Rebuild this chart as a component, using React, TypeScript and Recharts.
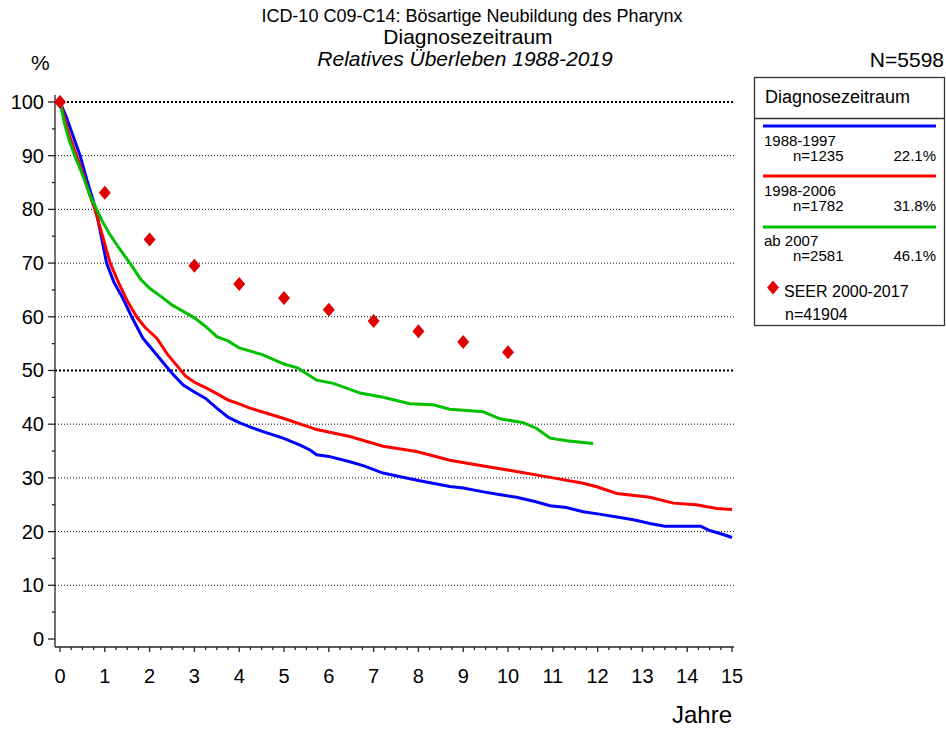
import React from "react";
import {
  ComposedChart,
  Line,
  Scatter,
  XAxis,
  YAxis,
  ReferenceLine,
} from "recharts";

const FONT = "'Liberation Sans', Arial, Helvetica, sans-serif";

// 1988-1997
const blueT = [0, 0.15, 0.3, 0.45, 0.6, 0.8, 0.92, 1.04, 1.2, 1.4, 1.6, 1.85, 2.0, 2.25, 2.5, 2.75, 3.0, 3.25, 3.5, 3.75, 4.0, 4.24, 4.5, 4.98, 5.36, 5.58, 5.73, 6.0, 6.47, 6.8, 7.21, 7.6, 8.0, 8.7, 9.0, 9.45, 9.8, 10.19, 10.6, 10.94, 11.3, 11.68, 12.0, 12.43, 12.8, 13.17, 13.5, 14.06, 14.3, 14.5, 14.75, 15.0];
const blueV = [100, 97, 93.5, 90, 85.5, 80, 75, 70, 66.5, 63.5, 60, 56, 54.5, 52, 49.5, 47.3, 46, 44.8, 43, 41.3, 40.3, 39.5, 38.7, 37.4, 36.1, 35.2, 34.3, 34, 33, 32.2, 30.9, 30.2, 29.5, 28.4, 28.1, 27.4, 26.9, 26.4, 25.6, 24.8, 24.5, 23.7, 23.3, 22.7, 22.2, 21.5, 21.0, 21.0, 21.0, 20.2, 19.6, 18.9];

// 1998-2006
const redT = [0, 0.1, 0.2, 0.37, 0.5, 0.65, 0.78, 0.95, 1.12, 1.3, 1.5, 1.71, 1.9, 2.16, 2.4, 2.6, 2.8, 3.0, 3.25, 3.5, 3.75, 4.0, 4.24, 4.98, 5.73, 6.47, 7.21, 7.96, 8.7, 9.45, 10.19, 10.94, 11.68, 12.0, 12.43, 13.17, 13.69, 14.2, 14.66, 15.0];
const redV = [100, 97, 94, 90, 87, 83, 80, 75, 70, 66.5, 63, 60, 58, 56, 53, 51, 49, 47.8, 46.8, 45.7, 44.5, 43.8, 43.0, 41.1, 39.0, 37.7, 35.9, 34.9, 33.3, 32.2, 31.2, 30.1, 29.0, 28.3, 27.1, 26.4, 25.3, 25.0, 24.3, 24.1];

// ab 2007
const greenT = [0, 0.1, 0.2, 0.33, 0.5, 0.7, 0.82, 0.93, 1.1, 1.3, 1.56, 1.8, 2.0, 2.25, 2.5, 2.75, 3.0, 3.25, 3.5, 3.75, 4.0, 4.5, 5.0, 5.3, 5.73, 6.1, 6.7, 7.21, 7.81, 8.33, 8.7, 9.45, 9.82, 10.34, 10.64, 10.94, 11.31, 11.9];
const greenV = [100, 96, 93, 90, 86.5, 82, 80, 78, 75.5, 73, 70, 67, 65.3, 63.8, 62.2, 61, 59.8, 58.2, 56.3, 55.5, 54.2, 53, 51.2, 50.5, 48.2, 47.6, 45.8, 45.0, 43.8, 43.6, 42.8, 42.3, 41.0, 40.3, 39.2, 37.4, 36.9, 36.4];

// SEER 2000-2017
const seerT = [0, 1, 2, 3, 4, 5, 6, 7, 8, 9, 10];
const seerV = [100, 83.1, 74.4, 69.5, 66.1, 63.5, 61.3, 59.2, 57.3, 55.3, 53.4];

const yMajor = [0, 10, 20, 30, 40, 50, 60, 70, 80, 90, 100];
const yMinor = [5, 15, 25, 35, 45, 55, 65, 75, 85, 95];
const xMajor = [0, 1, 2, 3, 4, 5, 6, 7, 8, 9, 10, 11, 12, 13, 14, 15];
const xMinor = xMajor.slice(0, 15).flatMap((v) => [v + 0.25, v + 0.5, v + 0.75]);
const gridLines = [10, 20, 30, 40, 60, 70, 80, 90];
const boldGridLines = [50, 100];

const toRows = (t: number[], v: number[]) => t.map((x, i) => ({ t: x, v: v[i] }));

const blueData = toRows(blueT, blueV);
const redData = toRows(redT, redV);
const greenData = toRows(greenT, greenV);
const seerData = toRows(seerT, seerV);

const XTick = (props: any) => {
  const { x, y, payload } = props;
  const major = Number.isInteger(payload.value);
  return (
    <g>
      <line x1={x} x2={x} y1={y} y2={y + (major ? 5 : 3)} stroke="#222" strokeWidth={1.3} />
      {major && (
        <text x={x} y={y + 36} textAnchor="middle" fontSize={20} fontFamily={FONT} fill="#000">
          {payload.value}
        </text>
      )}
    </g>
  );
};

const YTick = (props: any) => {
  const { x, y, payload } = props;
  const major = payload.value % 10 === 0;
  return (
    <g>
      <line x1={x - (major ? 7 : 3)} x2={x} y1={y} y2={y} stroke="#222" strokeWidth={1.3} />
      {major && (
        <text x={x - 11} y={y + 7} textAnchor="end" fontSize={20} fontFamily={FONT} fill="#000">
          {payload.value}
        </text>
      )}
    </g>
  );
};

const Diamond = (props: any) => {
  const { cx, cy } = props;
  return (
    <polygon
      points={`${cx},${cy - 7} ${cx + 6},${cy} ${cx},${cy + 7} ${cx - 6},${cy}`}
      fill="#E00000"
    />
  );
};

export default function App() {
  return (
    <div style={{ position: "absolute", left: 0, top: 0, width: 946, height: 729, background: "#fff" }}>
      <ComposedChart
        width={946}
        height={729}
        margin={{ top: 95, right: 212, bottom: 72, left: 45 }}
      >
        <XAxis
          type="number"
          dataKey="t"
          domain={[-0.1116, 15.044]}
          allowDataOverflow
          ticks={[...xMajor, ...xMinor]}
          tick={<XTick />}
          tickLine={false}
          tickSize={0}
          tickMargin={0}
          height={10}
          interval={0}
          axisLine={{ stroke: "#222", strokeWidth: 1.3 }}
        />
        <YAxis
          type="number"
          dataKey="v"
          domain={[-1.49, 101.3]}
          allowDataOverflow
          ticks={[...yMajor, ...yMinor]}
          tick={<YTick />}
          tickLine={false}
          tickSize={0}
          tickMargin={0}
          width={10}
          interval={0}
          axisLine={{ stroke: "#222", strokeWidth: 1.3 }}
        />
        {gridLines.map((g) => (
          <ReferenceLine key={g} y={g} stroke="#000" strokeWidth={1} strokeDasharray="1 2" />
        ))}
        {boldGridLines.map((g) => (
          <ReferenceLine key={g} y={g} stroke="#000" strokeWidth={2} strokeDasharray="2 2" />
        ))}
        <Line data={blueData} dataKey="v" stroke="#0000FF" strokeWidth={3} dot={false} isAnimationActive={false} />
        <Line data={redData} dataKey="v" stroke="#FF0000" strokeWidth={3} dot={false} isAnimationActive={false} />
        <Line data={greenData} dataKey="v" stroke="#00C000" strokeWidth={3} dot={false} isAnimationActive={false} />
        <Scatter data={seerData} dataKey="v" shape={<Diamond />} isAnimationActive={false} />
      </ComposedChart>

      <svg
        width={946}
        height={729}
        style={{ position: "absolute", left: 0, top: 0, pointerEvents: "none" }}
        fontFamily={FONT}
      >
        <text x={472} y={22} textAnchor="middle" fontSize={18}>ICD-10 C09-C14: Bösartige Neubildung des Pharynx</text>
        <text x={468} y={44} textAnchor="middle" fontSize={21}>Diagnosezeitraum</text>
        <text x={465} y={66} textAnchor="middle" fontSize={21} fontStyle="italic">Relatives Überleben 1988-2019</text>
        <text x={31} y={70} fontSize={21}>%</text>
        <text x={944} y={67} textAnchor="end" fontSize={21}>N=5598</text>
        <text x={732} y={723} textAnchor="end" fontSize={24}>Jahre</text>

        <rect x={754.5} y={77.5} width={190} height={248} fill="#fff" stroke="#333" strokeWidth={1.3} />
        <line x1={754.5} x2={944.5} y1={118.5} y2={118.5} stroke="#333" strokeWidth={1.3} />
        <text x={765} y={103} fontSize={18}>Diagnosezeitraum</text>

        <line x1={763} x2={936} y1={126} y2={126} stroke="#0000FF" strokeWidth={3} />
        <text x={764} y={146} fontSize={15}>1988-1997</text>
        <text x={793} y={161} fontSize={15}>n=1235</text>
        <text x={936} y={161} textAnchor="end" fontSize={15}>22.1%</text>

        <line x1={763} x2={936} y1={176} y2={176} stroke="#FF0000" strokeWidth={3} />
        <text x={764} y={196} fontSize={15}>1998-2006</text>
        <text x={793} y={211} fontSize={15}>n=1782</text>
        <text x={936} y={211} textAnchor="end" fontSize={15}>31.8%</text>

        <line x1={763} x2={936} y1={227} y2={227} stroke="#00C000" strokeWidth={3} />
        <text x={764} y={246} fontSize={15}>ab 2007</text>
        <text x={793} y={261} fontSize={15}>n=2581</text>
        <text x={936} y={261} textAnchor="end" fontSize={15}>46.1%</text>

        <polygon points="773,280.5 779,287.5 773,294.5 767,287.5" fill="#E00000" />
        <text x={784} y={297} fontSize={16}>SEER 2000-2017</text>
        <text x={785} y={320} fontSize={16}>n=41904</text>
      </svg>
    </div>
  );
}
